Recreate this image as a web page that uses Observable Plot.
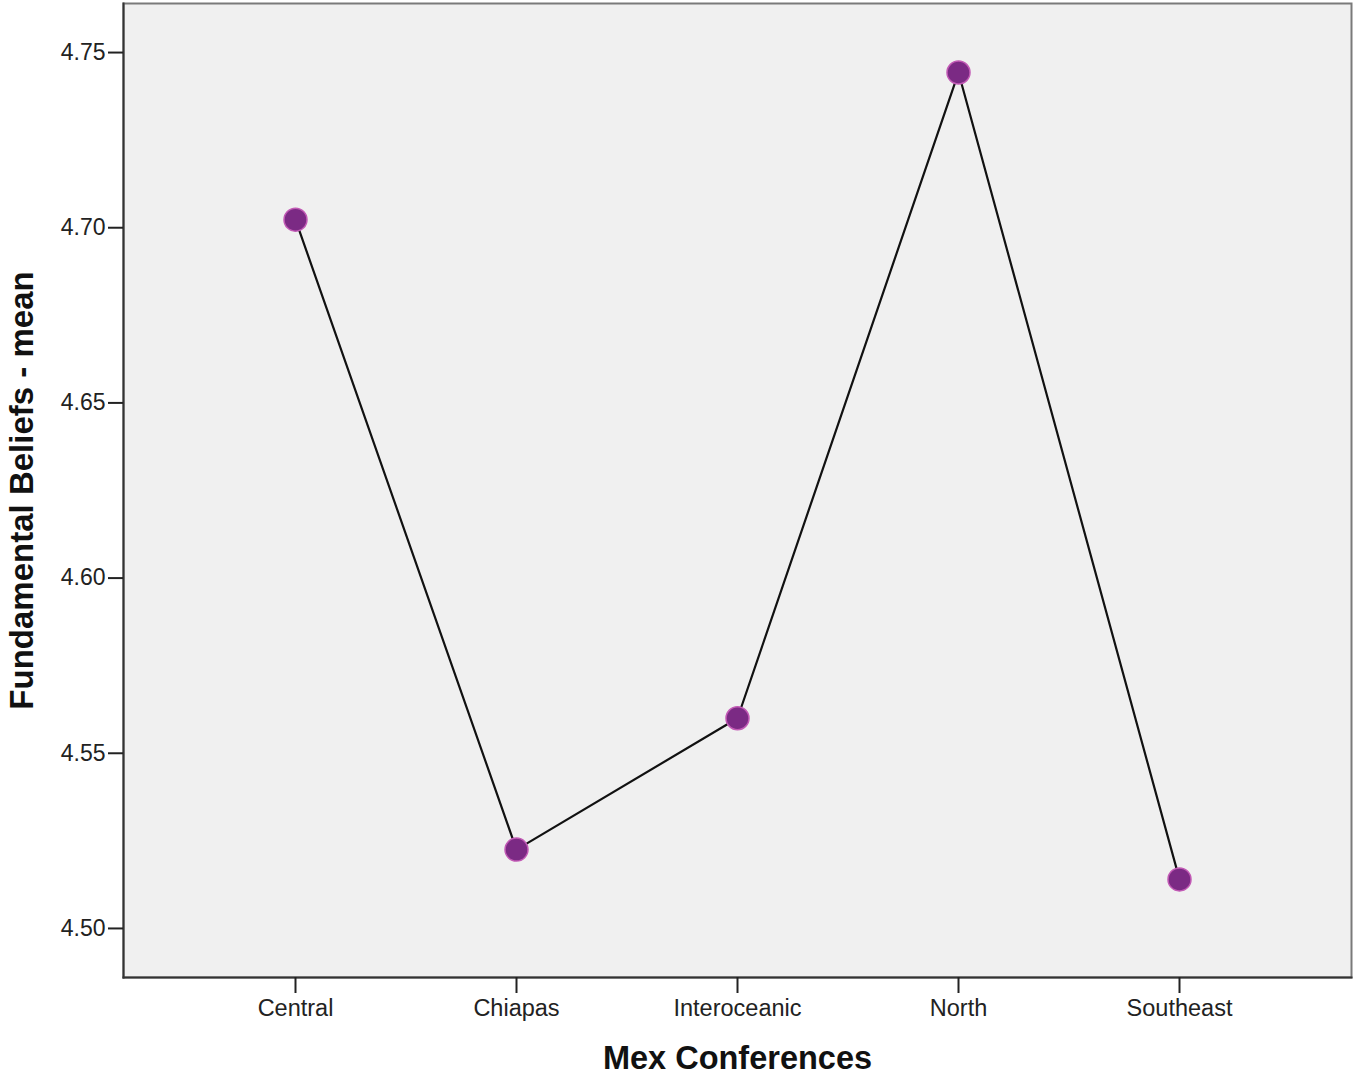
<!DOCTYPE html>
<html>
<head>
<meta charset="utf-8">
<script src="https://cdn.jsdelivr.net/npm/d3@7"></script>
<script src="https://cdn.jsdelivr.net/npm/@observablehq/plot@0.6"></script>
<style>
  html, body { margin: 0; padding: 0; background: #fff; }
  #chart svg { display: block; }
</style>
</head>
<body>
<div id="chart"></div>
<script>
const categories = ["Central", "Chiapas", "Interoceanic", "North", "Southeast"];
const means = [4.7023, 4.5225, 4.5600, 4.7443, 4.5140];
const yTicks = [4.50, 4.55, 4.60, 4.65, 4.70, 4.75];
const xTitle = "Mex Conferences";
const yTitle = "Fundamental Beliefs - mean";

const data = categories.map((c, i) => ({category: c, mean: means[i]}));

const chart = Plot.plot({
  width: 1355,
  height: 1076,
  marginLeft: 123,
  marginTop: 3,
  marginRight: 4,
  marginBottom: 99,
  style: {fontFamily: "'Liberation Sans', Arial, sans-serif", background: "#fff"},
  x: {type: "point", domain: categories, padding: 0.775},
  y: {domain: [4.486, 4.764]},
  marks: [
    Plot.frame({fill: "#f0f0f0", stroke: "#7a7a7a", strokeWidth: 2}),
    Plot.frame({anchor: "left", stroke: "#333", strokeWidth: 2}),
    Plot.frame({anchor: "bottom", stroke: "#333", strokeWidth: 2}),
    Plot.axisY({ticks: yTicks, tickFormat: d3.format(".2f"), tickSize: 15, tickPadding: 3, fontSize: 23, label: null, stroke: "#222", strokeWidth: 2, color: "#222"}),
    Plot.axisX({tickSize: 16, tickPadding: 6, fontSize: 23.5, label: null, stroke: "#222", strokeWidth: 2, color: "#222"}),
    Plot.text([yTitle], {frameAnchor: "left", dx: -101, rotate: -90, textAnchor: "middle", lineAnchor: "middle", fontSize: 33, fontWeight: "bold", fill: "#111"}),
    Plot.text([xTitle], {frameAnchor: "bottom", dy: 81, textAnchor: "middle", lineAnchor: "middle", fontSize: 32.5, fontWeight: "bold", fill: "#111"}),
    Plot.line(data, {x: "category", y: "mean", stroke: "#111", strokeWidth: 2.2}),
    Plot.dot(data, {x: "category", y: "mean", r: 11.5, fill: "#7b2a84", stroke: "#c25ab5", strokeWidth: 1.5})
  ]
});
document.getElementById("chart").append(chart);
</script>
</body>
</html>
